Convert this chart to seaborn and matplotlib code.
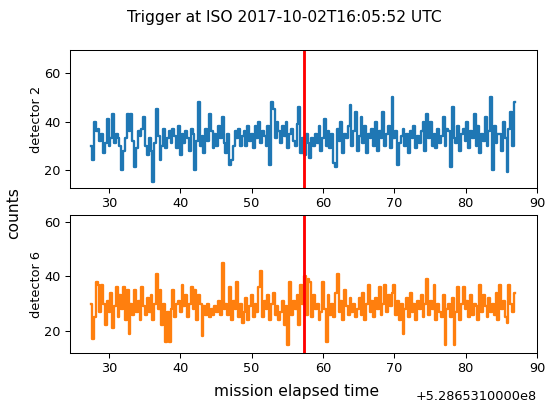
import numpy as np
import pandas as pd
import matplotlib
matplotlib.use("Agg")
import matplotlib.pyplot as plt
from matplotlib.ticker import ScalarFormatter
import seaborn as sns

# ---- data -------------------------------------------------------------
met_offset = 528653100.0      # mission elapsed time offset (s)
first_bin = 27.5              # start of first bin relative to offset (s)
bin_width = 0.256             # bin width (s)
trigger_time = 57.4           # trigger relative to offset (s)

det2_counts = [
    30, 24, 40, 36, 37, 32, 35, 27, 31, 41, 30, 33, 43, 31, 35, 33,
    30, 20, 28, 33, 43, 36, 43, 32, 21, 29, 36, 34, 37, 42, 30, 26,
    33, 28, 15, 31, 45, 34, 24, 30, 37, 29, 33, 36, 31, 37, 34, 29,
    38, 26, 35, 31, 36, 33, 28, 37, 35, 20, 32, 48, 30, 34, 27, 37,
    32, 43, 36, 29, 35, 30, 38, 33, 42, 31, 27, 35, 22, 24, 30, 36,
    33, 37, 30, 34, 36, 30, 38, 32, 35, 29, 38, 33, 40, 31, 36, 34,
    30, 38, 22, 48, 45, 33, 40, 36, 31, 38, 34, 40, 29, 35, 37, 32,
    30, 39, 46, 27, 33, 26, 35, 31, 25, 33, 30, 35, 31, 38, 28, 33,
    41, 30, 36, 29, 35, 23, 21, 37, 32, 40, 27, 35, 33, 38, 47, 30,
    36, 44, 28, 34, 42, 31, 38, 27, 35, 33, 37, 30, 40, 28, 36, 33,
    44, 30, 35, 38, 29, 50, 33, 36, 22, 31, 34, 37, 30, 35, 27, 36,
    33, 38, 29, 34, 31, 36, 40, 28, 43, 33, 40, 30, 35, 29, 37, 31,
    34, 42, 30, 37, 36, 21, 46, 33, 31, 38, 28, 35, 37, 32, 40, 29,
    36, 33, 43, 30, 38, 27, 35, 32, 42, 30, 36, 50, 20, 38, 31, 35,
    35, 28, 40, 33, 19, 37, 44, 30, 48,
]

det6_counts = [
    30, 17, 25, 38, 37, 27, 37, 30, 22, 31, 27, 34, 21, 29, 36, 25,
    33, 28, 36, 24, 35, 19, 30, 26, 35, 27, 31, 24, 36, 29, 26, 32,
    27, 33, 24, 30, 41, 28, 35, 22, 30, 16, 27, 16, 28, 35, 25, 30,
    31, 27, 37, 29, 33, 25, 30, 36, 28, 35, 24, 33, 30, 18, 29, 26,
    30, 25, 28, 26, 29, 27, 31, 26, 45, 28, 30, 26, 36, 24, 31, 28,
    38, 25, 30, 23, 27, 32, 24, 29, 33, 25, 30, 27, 36, 42, 25, 31,
    28, 33, 24, 30, 34, 26, 29, 24, 27, 31, 22, 29, 15, 38, 26, 31,
    28, 33, 22, 37, 30, 40, 26, 39, 38, 25, 33, 28, 30, 24, 27, 38,
    28, 16, 33, 26, 30, 25, 34, 41, 27, 31, 24, 35, 29, 26, 32, 27,
    30, 25, 28, 32, 26, 34, 24, 30, 37, 27, 31, 25, 32, 28, 36, 26,
    30, 37, 27, 33, 29, 34, 37, 26, 31, 24, 30, 19, 28, 32, 25, 34,
    27, 30, 24, 31, 28, 33, 25, 30, 39, 26, 31, 28, 37, 24, 30, 27,
    25, 33, 15, 28, 30, 25, 32, 15, 27, 36, 24, 30, 36, 28, 31, 25,
    33, 26, 30, 29, 24, 37, 27, 33, 29, 25, 32, 27, 30, 26, 34, 24,
    37, 28, 31, 25, 23, 37, 30, 27, 34,
]

detectors = ["detector 2", "detector 6"]
series = [det2_counts, det6_counts]
colors = ["#1f77b4", "#ff7f0e"]
ylims = [(12.5, 69.6), (11.9, 62.5)]
yticks = [20, 40, 60]
xticks = [30, 40, 50, 60, 70, 80, 90]
title = "Trigger at ISO 2017-10-02T16:05:52 UTC"
xlabel = "mission elapsed time"
ylabel = "counts"

# ---- figure -----------------------------------------------------------
DPI = 93
fig, axes = plt.subplots(2, 1, figsize=(545 / DPI, 403 / DPI), dpi=DPI)
fig.subplots_adjust(left=70 / 545, right=537 / 545, top=1 - 50 / 403,
                    bottom=1 - 353 / 403, hspace=0.196)

for ax, name, counts, col, yl in zip(axes, detectors, series, colors, ylims):
    n = len(counts)
    times = met_offset + first_bin + bin_width * np.arange(n)
    df = pd.DataFrame({"time": times, "counts": counts})
    sns.lineplot(data=df, x="time", y="counts", ax=ax, color=col,
                 estimator=None, drawstyle="steps-mid", linewidth=1.8)
    ax.axvline(met_offset + trigger_time, color="red", linewidth=2.2)
    ax.set_ylim(*yl)
    ax.set_yticks(yticks)
    ax.set_xticks([met_offset + v for v in xticks])
    fmt = ScalarFormatter(useOffset=met_offset)
    ax.xaxis.set_major_formatter(fmt)
    ax.xaxis.get_offset_text().set_visible(False)
    ax.set_ylabel(name, fontsize=10, labelpad=1)
    ax.set_xlabel("")

axes[1].set_xlabel(xlabel, fontsize=12)
axes[1].xaxis.set_label_coords((296.5 - 70) / 467, -0.225)

mant, expo = f"{met_offset:.10e}".split("e")
offset_str = f"+{mant}e{int(expo)}"
fig.text(537 / 545, 1 - 397 / 403, offset_str, ha="right", va="center",
         fontsize=10)

fig.text(284 / 545, 1 - 10 / 403, title, ha="center", va="top", fontsize=12)
fig.text(14 / 545, 1 - 213 / 403, ylabel, ha="center", va="center",
         rotation=90, fontsize=12)

fig.savefig("out.png", dpi=DPI)
